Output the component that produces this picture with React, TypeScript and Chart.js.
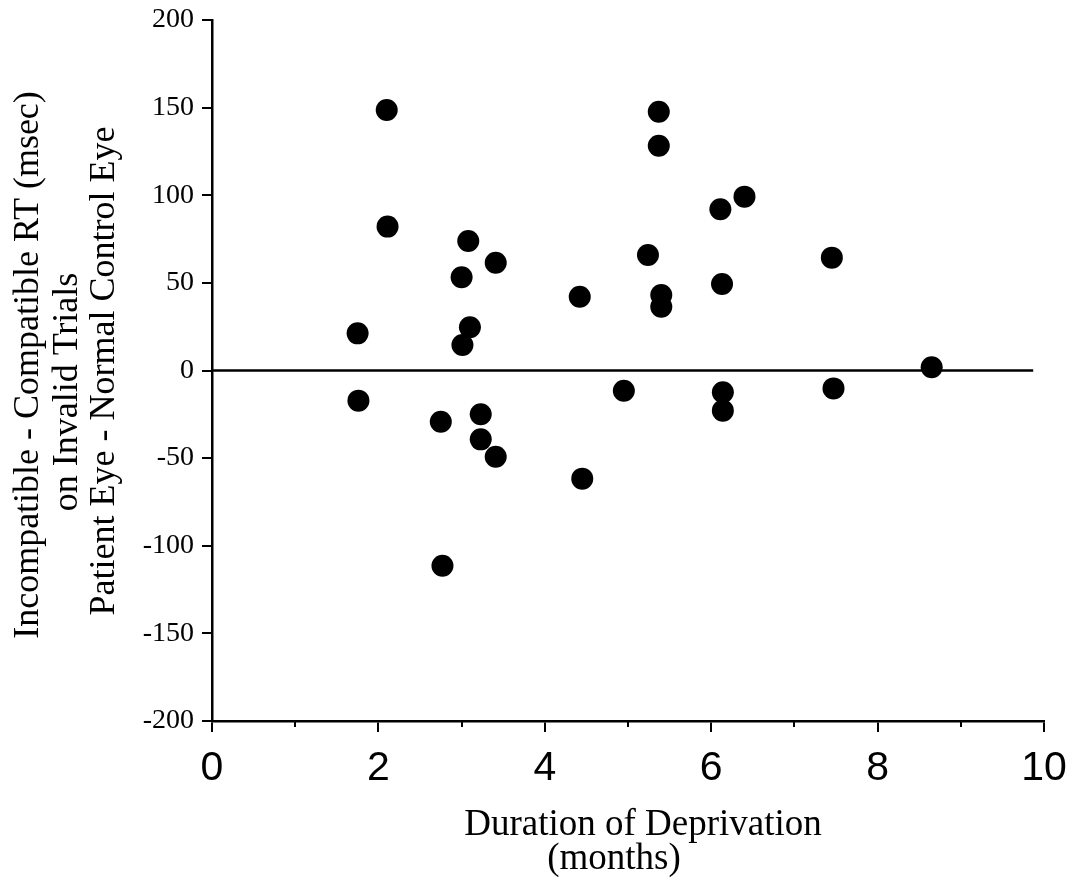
import { useEffect, useRef } from 'react';
import { Chart, registerables } from 'chart.js';

Chart.register(...registerables);

// Duration of deprivation (months) for each patient eye
const durationMonths = [
  2.1, 2.11, 3.08, 3.41, 3.0, 4.42, 1.75, 3.1, 3.01, 1.76,
  2.75, 3.23, 3.23, 3.41, 4.45, 2.77, 5.37, 5.37, 6.4, 6.11,
  5.24, 7.45, 6.13, 5.4, 5.4, 4.95, 6.14, 6.14, 7.47, 8.65,
];

// Incompatible - compatible RT difference, patient eye minus normal control eye (msec)
const rtDifferenceMs = [
  148.6, 82.1, 73.9, 61.5, 53.2, 42.1, 21.2, 24.7, 14.6, -17.2,
  -29.2, -25.0, -39.3, -49.2, -61.7, -111.4, 147.7, 128.3, 99.2, 92.0,
  65.9, 64.4, 49.4, 43.1, 36.4, -11.5, -12.4, -22.9, -10.2, 1.8,
];

// Horizontal reference line at zero difference
const zeroLineX = [0, 9.87];
const zeroLineY = [0, 0];

const xMinorTicks = [1, 3, 5, 7, 9];

const yTitleLines = [
  'Incompatible - Compatible RT (msec)',
  'on Invalid Trials',
  'Patient Eye - Normal Control Eye',
];
const xTitleLines = ['Duration of Deprivation', '(months)'];

const SERIF = '"Liberation Serif", "Times New Roman", serif';
const SANS = '"Liberation Sans", Arial, sans-serif';

const axisDecorations = {
  id: 'axisDecorations',
  afterDraw(chart: any) {
    const { ctx, chartArea } = chart;
    const xs = chart.scales.x;
    ctx.save();
    // minor ticks on the x axis
    ctx.strokeStyle = '#000';
    ctx.lineWidth = 2;
    ctx.beginPath();
    xMinorTicks.forEach((v) => {
      const px = Math.round(xs.getPixelForValue(v));
      ctx.moveTo(px, chartArea.bottom);
      ctx.lineTo(px, chartArea.bottom + 6);
    });
    ctx.stroke();

    // axis titles
    ctx.fillStyle = '#000';
    ctx.font = `36px ${SERIF}`;
    ctx.textAlign = 'center';
    ctx.textBaseline = 'alphabetic';
    const yBaselines = [38, 77, 114];
    const yCenters = [365, 392, 371];
    yTitleLines.forEach((line, i) => {
      ctx.save();
      ctx.translate(yBaselines[i], yCenters[i]);
      ctx.rotate(-Math.PI / 2);
      ctx.fillText(line, 0, 0);
      ctx.restore();
    });
    ctx.font = `37px ${SERIF}`;
    const xCenters = [643, 614];
    const xBaselines = [835, 869];
    xTitleLines.forEach((line, i) => {
      ctx.fillText(line, xCenters[i], xBaselines[i]);
    });
    ctx.restore();
  },
};

export default function App() {
  const canvasRef = useRef<HTMLCanvasElement | null>(null);

  useEffect(() => {
    if (!canvasRef.current) return;
    const points = durationMonths.map((x, i) => ({ x, y: rtDifferenceMs[i] }));
    const zeroLine = zeroLineX.map((x, i) => ({ x, y: zeroLineY[i] }));

    const chart = new Chart(canvasRef.current, {
      type: 'scatter',
      data: {
        datasets: [
          {
            type: 'line',
            data: zeroLine,
            borderColor: '#000',
            borderWidth: 2.5,
            pointRadius: 0,
            fill: false,
          } as any,
          {
            data: points,
            backgroundColor: '#000',
            borderWidth: 0,
            pointRadius: 11,
            pointHoverRadius: 11,
          },
        ],
      },
      options: {
        responsive: false,
        animation: false,
        events: [],
        layout: { padding: { top: 20, right: 22, left: 0, bottom: 0 } },
        plugins: { legend: { display: false }, tooltip: { enabled: false } },
        scales: {
          x: {
            type: 'linear',
            min: 0,
            max: 10,
            afterFit: (s: any) => {
              s.height = 156;
              s.paddingLeft = 0;
              s.paddingRight = 0;
            },
            ticks: {
              stepSize: 2,
              color: '#000',
              font: { family: SANS, size: 41 },
              padding: 12,
              maxRotation: 0,
            },
            grid: {
              display: true,
              drawOnChartArea: false,
              drawTicks: true,
              tickLength: 11,
              color: '#000',
              lineWidth: 2,
            },
            border: { display: true, color: '#000', width: 2.5 },
          },
          y: {
            type: 'linear',
            min: -200,
            max: 200,
            afterFit: (s: any) => {
              s.width = 212;
              s.paddingTop = 0;
              s.paddingBottom = 0;
            },
            ticks: {
              stepSize: 50,
              color: '#000',
              font: { family: SERIF, size: 28 },
              padding: 8,
            },
            grid: {
              display: true,
              drawOnChartArea: false,
              drawTicks: true,
              tickLength: 10,
              color: '#000',
              lineWidth: 2,
            },
            border: { display: true, color: '#000', width: 2.5 },
          },
        },
      },
      plugins: [axisDecorations],
    });
    return () => chart.destroy();
  }, []);

  return (
    <div style={{ position: 'absolute', left: 0, top: 0, width: 1066, height: 877, background: '#fff' }}>
      <canvas ref={canvasRef} width={1066} height={877} style={{ display: 'block' }} />
    </div>
  );
}
